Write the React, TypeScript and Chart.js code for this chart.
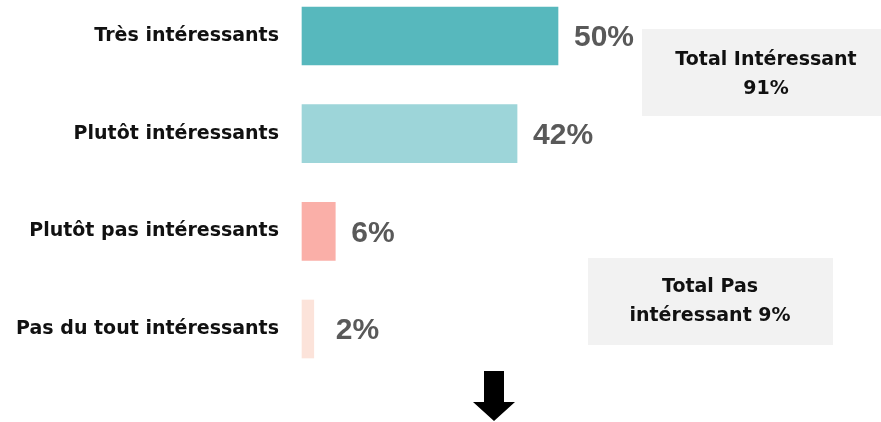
import React, { useEffect, useRef } from "react";
import { Chart, registerables } from "chart.js";

Chart.register(...registerables);

const categories = [
  "Très intéressants",
  "Plutôt intéressants",
  "Plutôt pas intéressants",
  "Pas du tout intéressants",
];
const values = [50, 42, 6.5, 2.3];
const valueLabels = ["50%", "42%", "6%", "2%"];
const barColors = ["#57B8BD", "#9DD5D9", "#FAAFA8", "#FCE3DA"];
const totalBoxes = [
  { lines: ["Total Intéressant", "91%"] },
  { lines: ["Total Pas", "intéressant 9%"] },
];

const W = 881;
const H = 422;
const LABEL_FONT = "'DejaVu Sans', Verdana, sans-serif";

const overlayPlugin = {
  id: "overlay",
  afterDatasetsDraw(chart: any) {
    const ctx = chart.ctx;
    const meta = chart.getDatasetMeta(0);
    ctx.save();
    // value labels
    ctx.font = "bold 30px 'Liberation Sans', Arial, sans-serif";
    ctx.fillStyle = "#595959";
    ctx.textAlign = "left";
    ctx.textBaseline = "middle";
    meta.data.forEach((bar: any, i: number) => {
      const off = i === 3 ? 22 : 16;
      ctx.fillText(valueLabels[i], bar.x + off, bar.y + 2);
    });

    // total boxes
    const boxes = [
      { x: 642, y: 29, w: 248, h: 87, cx: 766, lineY: [60, 89] },
      { x: 588, y: 258, w: 245, h: 87, cx: 710, lineY: [287, 316] },
    ];
    boxes.forEach((b, i) => {
      ctx.fillStyle = "#F2F2F2";
      ctx.fillRect(b.x, b.y, b.w, b.h);
      ctx.fillStyle = "#111111";
      ctx.font = "bold 19px " + LABEL_FONT;
      ctx.textAlign = "center";
      ctx.textBaseline = "middle";
      totalBoxes[i].lines.forEach((t, j) => {
        ctx.fillText(t, b.cx, b.lineY[j]);
      });
    });

    // down arrow
    ctx.fillStyle = "#000000";
    ctx.beginPath();
    ctx.moveTo(484, 371);
    ctx.lineTo(504, 371);
    ctx.lineTo(504, 402);
    ctx.lineTo(515, 402);
    ctx.lineTo(494, 421);
    ctx.lineTo(473, 402);
    ctx.lineTo(484, 402);
    ctx.closePath();
    ctx.fill();
    ctx.restore();
  },
};

export default function App() {
  const ref = useRef<HTMLCanvasElement | null>(null);
  useEffect(() => {
    if (!ref.current) return;
    const chart = new Chart(ref.current, {
      type: "bar",
      data: {
        labels: categories,
        datasets: [
          {
            data: values,
            backgroundColor: barColors,
            borderWidth: 0,
            barThickness: 58,
            clip: false as any,
          },
        ],
      },
      options: {
        indexAxis: "y",
        animation: false,
        responsive: false,
        layout: { padding: { top: 36, bottom: 93, left: 0, right: 67 } },
        plugins: {
          legend: { display: false },
          tooltip: { enabled: false },
          title: { display: false },
        },
        scales: {
          x: { display: false, min: 0, max: 100 },
          y: {
            offset: false,
            grid: { display: false, drawTicks: false },
            border: { display: false },
            ticks: {
              padding: 23,
              color: "#111111",
              font: { family: LABEL_FONT, weight: "bold", size: 19 },
            },
            afterFit: (scale: any) => {
              scale.width = 302;
            },
          },
        },
      },
      plugins: [overlayPlugin],
    });
    return () => chart.destroy();
  }, []);
  return (
    <div style={{ position: "absolute", left: 0, top: 0, width: W, height: H, background: "#fff" }}>
      <canvas ref={ref} width={W} height={H} style={{ display: "block" }} />
    </div>
  );
}
